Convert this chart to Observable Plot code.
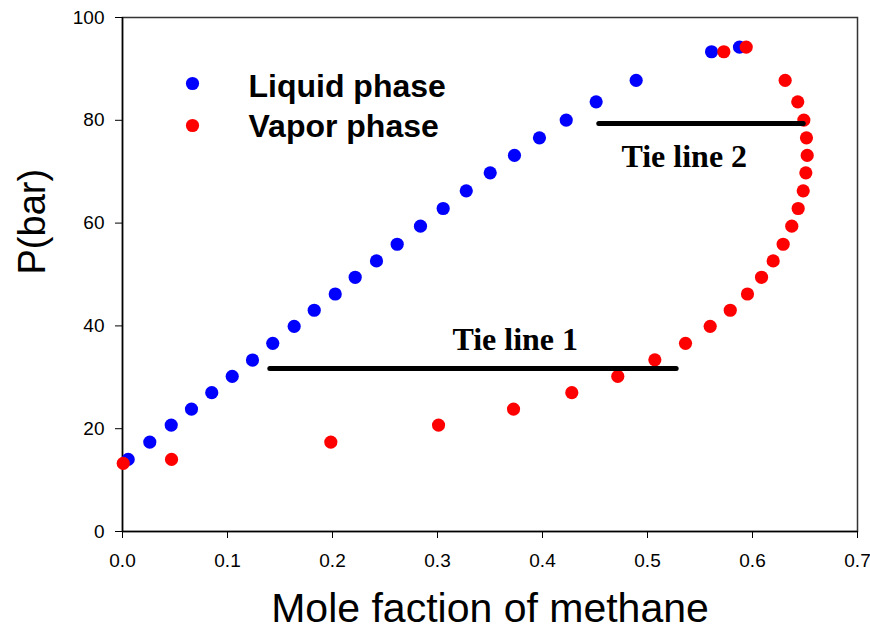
<!DOCTYPE html>
<html>
<head>
<meta charset="utf-8">
<script src="https://cdn.jsdelivr.net/npm/d3@7"></script>
<script src="https://cdn.jsdelivr.net/npm/@observablehq/plot@0.6"></script>
<style>
  html, body { margin: 0; padding: 0; background: #fff; }
</style>
</head>
<body>
<div id="chart"></div>
<script>
// Liquid phase (blue)
const liquidX = [0.0054, 0.026, 0.0464, 0.0657, 0.085, 0.1045, 0.1238, 0.1431, 0.1635, 0.1826,
  0.2026, 0.2216, 0.2419, 0.2616, 0.2838, 0.3054, 0.3274, 0.3502, 0.3733, 0.3971,
  0.4226, 0.4511, 0.4892, 0.561, 0.5876];
const liquidP = [14.02, 17.39, 20.70, 23.82, 27.01, 30.18, 33.36, 36.61, 39.92, 43.04,
  46.21, 49.46, 52.64, 55.89, 59.40, 62.84, 66.27, 69.78, 73.16, 76.59,
  80.04, 83.60, 87.77, 93.34, 94.25];

// Vapor phase (red)
const vaporX = [0.0007, 0.0467, 0.1984, 0.301, 0.3724, 0.4279, 0.4717, 0.507, 0.5362, 0.5597,
  0.5788, 0.5952, 0.6086, 0.6197, 0.6292, 0.6374, 0.6435, 0.6483, 0.6508, 0.6521,
  0.6514, 0.6489, 0.6431, 0.6311, 0.5727, 0.594];
const vaporP = [13.24, 14.02, 17.39, 20.70, 23.82, 27.01, 30.18, 33.40, 36.61, 39.92,
  43.04, 46.21, 49.46, 52.64, 55.89, 59.40, 62.84, 66.27, 69.78, 73.16,
  76.59, 80.04, 83.60, 87.77, 93.34, 94.25];

// Tie lines
const tieLabels = ["Tie line 1", "Tie line 2"];
const tieX1 = [0.1403, 0.4536];
const tieX2 = [0.5273, 0.6483];
const tieP = [31.7, 79.4];
const tieLabelX = [0.374, 0.535];
const tieLabelP = [37.3, 72.9];

// Ticks and text
const xTicks = [0, 0.1, 0.2, 0.3, 0.4, 0.5, 0.6, 0.7];
const yTicks = [0, 20, 40, 60, 80, 100];
const legendLabels = ["Liquid phase", "Vapor phase"];
const legendColors = ["#0000ff", "#ff0000"];
const xLabel = "Mole faction of methane";
const yLabel = "P(bar)";

const liquid = liquidX.map((x, i) => ({x, p: liquidP[i]}));
const vapor = vaporX.map((x, i) => ({x, p: vaporP[i]}));
const ties = tieLabels.map((label, i) => ({label, x1: tieX1[i], x2: tieX2[i], p: tieP[i], lx: tieLabelX[i], lp: tieLabelP[i]}));
const legendItems = legendLabels.map((label, i) => ({label, color: legendColors[i]}));

const chart = Plot.plot({
  width: 870,
  height: 630,
  marginLeft: 122,
  marginRight: 13,
  marginTop: 17,
  marginBottom: 99,
  x: {domain: [0, 0.7]},
  y: {domain: [0, 100]},
  style: {fontFamily: "Arial, 'Liberation Sans', sans-serif", background: "#fff", overflow: "visible", color: "#000"},
  marks: [
    Plot.frame({stroke: "#333", strokeWidth: 1.5}),
    Plot.axisX({ticks: xTicks, tickFormat: d3.format(".1f"), tickSize: 7, tickPadding: 15, fontSize: 19, label: null}),
    Plot.axisY({ticks: yTicks, tickSize: 7, tickPadding: 11, fontSize: 19, label: null}),
    Plot.ruleX([0], {stroke: "#000", strokeWidth: 1.5}),
    Plot.ruleY([0], {stroke: "#000", strokeWidth: 1.5}),
    Plot.dot(liquid, {x: "x", y: "p", r: 6.6, fill: legendColors[0]}),
    Plot.dot(vapor, {x: "x", y: "p", r: 6.6, fill: legendColors[1]}),
    Plot.link(ties, {x1: "x1", x2: "x2", y1: "p", y2: "p", stroke: "#000", strokeWidth: 5, strokeLinecap: "round"}),
    Plot.text(ties, {x: "lx", y: "lp", text: "label", fontFamily: "'Liberation Serif', 'Times New Roman', serif", fontWeight: "bold", fontSize: 32, fill: "#000"}),
    ...legendItems.flatMap((item, i) => [
      Plot.dot([item], {frameAnchor: "top-left", dx: 70, dy: 66 + 42 * i, r: 6.6, fill: item.color}),
      Plot.text([item], {frameAnchor: "top-left", dx: 126, dy: 69.5 + 40 * i, lineAnchor: "middle", text: "label", textAnchor: "start", fontWeight: "bold", fontSize: 32, fill: "#000"})
    ]),
    Plot.text([xLabel], {frameAnchor: "bottom", dy: 90, lineAnchor: "bottom", text: d => d, fontSize: 41, fill: "#000"}),
    Plot.text([yLabel], {frameAnchor: "left", dx: -78, rotate: -90, lineAnchor: "bottom", text: d => d, fontSize: 38, fill: "#000"})
  ]
});
document.getElementById("chart").appendChild(chart);
</script>
</body>
</html>
